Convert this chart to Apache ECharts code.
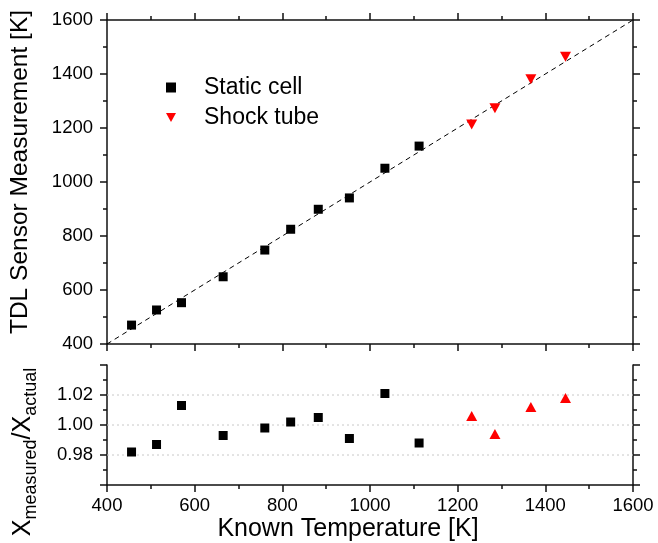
<!DOCTYPE html>
<html>
<head>
<meta charset="utf-8">
<script src="https://cdn.jsdelivr.net/npm/echarts@6/dist/echarts.min.js"></script>
<style>html,body{margin:0;padding:0;background:#fff;}#c{width:658px;height:543px;}</style>
</head>
<body>
<div id="c"></div>
<script>
// Data
var staticT     = [456, 513, 570, 665, 760, 819, 882, 953, 1034, 1112];
var staticMeas  = [470, 526, 553, 649, 748, 825, 899, 941, 1051, 1133];
var staticRatio = [0.982, 0.987, 1.013, 0.993, 0.998, 1.002, 1.005, 0.991, 1.021, 0.988];
var shockT      = [1232, 1285, 1367, 1446];
var shockMeas   = [1213, 1273, 1381, 1464];
var shockRatio  = [1.006, 0.994, 1.012, 1.018];
var parityLine  = [[400, 400], [1600, 1600]];
var ratioGrid   = [0.98, 1.00, 1.02];
var xRange      = [400, 1600];

function pairs(xs, ys) { return xs.map(function (x, i) { return [x, ys[i]]; }); }

var FONT = '"Liberation Sans", Arial, sans-serif';
var AX = { show: true, lineStyle: { color: '#111', width: 1.5 } };
var TICK = { show: true, inside: false, length: 7, lineStyle: { color: '#111', width: 1.5 } };
var MTICK = { show: true, splitNumber: 2, length: 4, lineStyle: { color: '#111', width: 1.5 } };
var LBL = { fontFamily: FONT, fontSize: 18.5, color: '#000' };
var downTri = 'path://M0,0L10,0L5,9Z';

var gridSeries = ratioGrid.map(function (v) {
  return { name: 'grid' + v, type: 'line', xAxisIndex: 2, yAxisIndex: 2, silent: true, symbol: 'none', z: 1,
    data: xRange.map(function (x) { return [x, v]; }),
    lineStyle: { color: '#c8c8c8', width: 1, type: [2, 3] } };
});

var chart = echarts.init(document.getElementById('c'), null, { renderer: 'canvas' });
chart.setOption({
  animation: false,
  backgroundColor: '#fff',
  textStyle: { fontFamily: FONT },
  grid: [
    { left: 107, top: 20, width: 526, height: 324 },
    { left: 107, top: 365, width: 526, height: 120 }
  ],
  legend: {
    data: ['Static cell', 'Shock tube'],
    orient: 'vertical',
    left: 166, top: 73, padding: 0,
    itemWidth: 10, itemHeight: 10, itemGap: 1,
    textStyle: { fontFamily: FONT, fontSize: 23, color: '#000', padding: [0, 0, 6, 23], lineHeight: 23 }
  },
  xAxis: [
    { gridIndex: 0, type: 'value', min: 400, max: 1600, interval: 200, position: 'bottom',
      axisLine: AX, axisTick: TICK, minorTick: MTICK, axisLabel: { show: false }, splitLine: { show: false } },
    { gridIndex: 0, type: 'value', min: 400, max: 1600, interval: 200, position: 'top',
      axisLine: AX, axisTick: TICK, minorTick: MTICK, axisLabel: { show: false }, splitLine: { show: false } },
    { gridIndex: 1, type: 'value', min: 400, max: 1600, interval: 200, position: 'bottom',
      axisLine: AX, axisTick: TICK, minorTick: MTICK,
      axisLabel: Object.assign({ margin: 11, formatter: function (v) { return String(v); } }, LBL),
      splitLine: { show: false },
      name: 'Known Temperature [K]', nameLocation: 'middle', nameGap: 32,
      nameTextStyle: { fontFamily: FONT, fontSize: 25, color: '#000', padding: [0, 44, 0, 0] } }
  ],
  yAxis: [
    { gridIndex: 0, type: 'value', min: 400, max: 1600, interval: 200, position: 'left',
      axisLine: AX, axisTick: TICK, minorTick: MTICK,
      axisLabel: Object.assign({ margin: 14, formatter: function (v) { return String(v); } }, LBL),
      splitLine: { show: false },
      name: 'TDL Sensor Measurement [K]', nameLocation: 'middle', nameGap: 74, nameRotate: 90,
      nameTextStyle: { fontFamily: FONT, fontSize: 24.5, color: '#000', padding: [0, 0, 0, 20] } },
    { gridIndex: 0, type: 'value', min: 400, max: 1600, interval: 200, position: 'right',
      axisLine: AX, axisTick: TICK, minorTick: MTICK, axisLabel: { show: false }, splitLine: { show: false } },
    { gridIndex: 1, type: 'value', min: 0.96, max: 1.04, interval: 0.02, position: 'left',
      axisLine: AX, axisTick: TICK, minorTick: MTICK,
      axisLabel: Object.assign({ margin: 14, showMinLabel: false, showMaxLabel: false,
        formatter: function (v) { return v.toFixed(2); } }, LBL),
      splitLine: { show: false },
      name: '{x|X}{s|measured}{x|/X}{s|actual}', nameLocation: 'middle', nameGap: 67, nameRotate: 90,
      nameTextStyle: { fontFamily: FONT, color: '#000', padding: [0, 54, 0, 0],
        rich: {
          x: { fontFamily: FONT, fontSize: 25, color: '#000', lineHeight: 25, padding: [0, 0, 8, 0] },
          s: { fontFamily: FONT, fontSize: 18, color: '#000', lineHeight: 18, verticalAlign: 'bottom' }
        } } },
    { gridIndex: 1, type: 'value', min: 0.96, max: 1.04, interval: 0.02, position: 'right',
      axisLine: AX, axisTick: TICK, minorTick: MTICK, axisLabel: { show: false }, splitLine: { show: false } }
  ],
  series: [
    { name: 'parity', type: 'line', xAxisIndex: 0, yAxisIndex: 0, data: parityLine, symbol: 'none', silent: true,
      lineStyle: { color: '#000', width: 1, type: [5, 4] }, z: 1 }
  ].concat(gridSeries, [
    { name: 'Static cell', type: 'scatter', xAxisIndex: 0, yAxisIndex: 0, data: pairs(staticT, staticMeas),
      symbol: 'rect', symbolSize: 9, itemStyle: { color: '#000', opacity: 1 }, z: 3 },
    { name: 'Shock tube', type: 'scatter', xAxisIndex: 0, yAxisIndex: 0, data: pairs(shockT, shockMeas),
      symbol: downTri, symbolSize: [11, 10], itemStyle: { color: '#ff0000', opacity: 1 }, z: 3 },
    { name: 'ratioStatic', type: 'scatter', xAxisIndex: 2, yAxisIndex: 2, data: pairs(staticT, staticRatio),
      symbol: 'rect', symbolSize: 9, itemStyle: { color: '#000', opacity: 1 }, z: 3 },
    { name: 'ratioShock', type: 'scatter', xAxisIndex: 2, yAxisIndex: 2, data: pairs(shockT, shockRatio),
      symbol: 'triangle', symbolSize: [11, 10], itemStyle: { color: '#ff0000', opacity: 1 }, z: 3 }
  ])
});
</script>
</body>
</html>
